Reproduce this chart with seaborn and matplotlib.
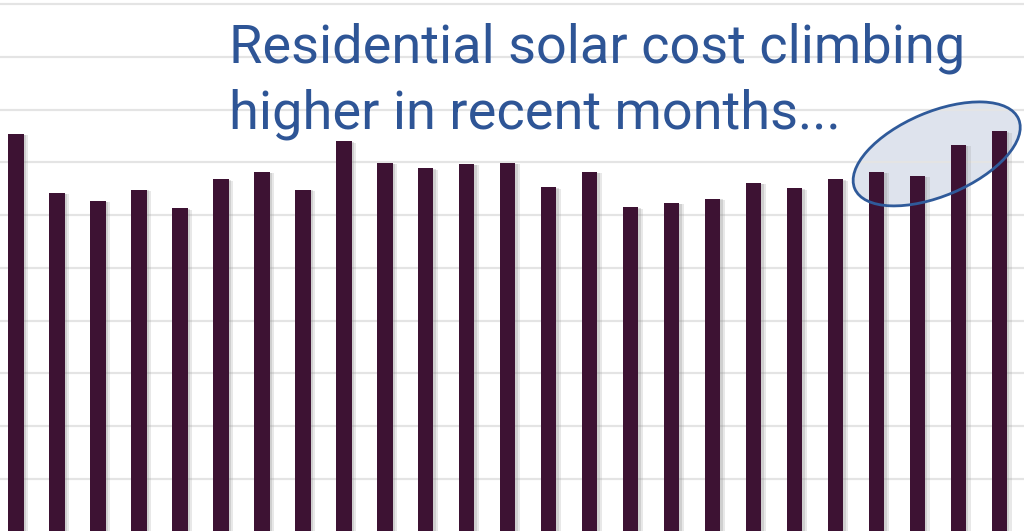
import matplotlib
matplotlib.use("Agg")
import matplotlib.pyplot as plt
import matplotlib.patheffects as pe
from matplotlib.patches import Ellipse
from matplotlib.transforms import ScaledTranslation
import seaborn as sns
import pandas as pd

# ---- data (y units = gridline steps) ----
months = [f"M{i}" for i in range(1, 26)]
cost = [7.54, 6.42, 6.27, 6.48, 6.13, 6.68, 6.82, 6.48, 7.40, 6.99,
        6.89, 6.97, 6.99, 6.53, 6.82, 6.15, 6.23, 6.31, 6.61, 6.51,
        6.68, 6.82, 6.74, 7.33, 7.59]
grid_levels = [1, 2, 3, 4, 5, 6, 7, 8, 9, 10]
title_lines = ["Residential solar cost climbing", "higher in recent months..."]

BAR = "#3d1233"
BLUE = "#2e5596"

sns.set_theme(style="white")
plt.rcParams["font.family"] = ["Roboto", "DejaVu Sans"]

fig = plt.figure(figsize=(10.24, 5.31), dpi=100)
ax = fig.add_axes([0, 0, 1, 1])

df = pd.DataFrame({"month": months, "cost": cost})
sns.barplot(data=df, x="month", y="cost", color=BAR, saturation=1,
            width=0.37, ax=ax, zorder=3)
for p in ax.patches:
    p.set_edgecolor("none")
    p.set_path_effects([pe.SimplePatchShadow(offset=(3, -1), shadow_rgbFace="#999999", alpha=0.22),
                        pe.SimplePatchShadow(offset=(1.5, -0.5), shadow_rgbFace="#888888", alpha=0.25),
                        pe.Normal()])

ax.set_xlim(-0.39, 24.59)
ax.set_ylim(0.015, 10.076)
ax.set_yticks(grid_levels)
ax.yaxis.grid(True, color="#e4e4e4", linewidth=1.6, zorder=0.6)
ax.xaxis.grid(False)
ax.set_axisbelow(True)
ax.tick_params(left=False, bottom=False, labelleft=False, labelbottom=False)
ax.set_xlabel("")
ax.set_ylabel("")
for s in ax.spines.values():
    s.set_visible(False)

# highlight ellipse around the last months
cx, cy = 22.46, 7.16
tr = fig.dpi_scale_trans + ScaledTranslation(cx, cy, ax.transData)
ax.add_patch(Ellipse((0, 0), 1.78, 0.84, angle=23, transform=tr,
                     facecolor="#dee3ed", edgecolor="none", zorder=0.4))
ax.add_patch(Ellipse((0, 0), 1.78, 0.84, angle=23, transform=tr,
                     facecolor="none", edgecolor="#2f5a9a", linewidth=2.0, zorder=5))

ax.text(229 / 1024, 1 - 63 / 531, title_lines[0], transform=ax.transAxes,
        fontsize=39, color=BLUE, ha="left", va="baseline", zorder=6)
ax.text(229 / 1024, 1 - 128 / 531, title_lines[1], transform=ax.transAxes,
        fontsize=39, color=BLUE, ha="left", va="baseline", zorder=6)

fig.savefig("out.png", dpi=100)
